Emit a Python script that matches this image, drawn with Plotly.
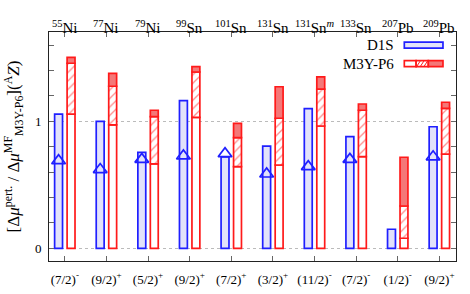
import plotly.graph_objects as go

nuclei = ["<sup>55</sup>Ni", "<sup>77</sup>Ni", "<sup>79</sup>Ni", "<sup>99</sup>Sn", "<sup>101</sup>Sn",
          "<sup>131</sup>Sn", "<sup>131</sup>Sn<sup><i>m</i></sup>", "<sup>133</sup>Sn", "<sup>207</sup>Pb", "<sup>209</sup>Pb"]
spins = ["(7/2)<sup>-</sup>", "(9/2)<sup>+</sup>", "(5/2)<sup>+</sup>", "(9/2)<sup>+</sup>", "(7/2)<sup>+</sup>",
         "(3/2)<sup>+</sup>", "(11/2)<sup>-</sup>", "(7/2)<sup>-</sup>", "(1/2)<sup>-</sup>", "(9/2)<sup>+</sup>"]
idx = list(range(len(nuclei)))

# D1S bars and triangle points
d1s = [1.057, 1.00, 0.756, 1.162, 0.72, 0.805, 1.10, 0.879, 0.15, 0.957]
d1s_tri = [0.69, 0.62, 0.70, 0.727, 0.745, 0.585, 0.643, 0.70, None, 0.72]

# M3Y-P6 stacked segments: white up to m3y_a, hatched up to m3y_b, filled up to m3y_c
m3y_a = [1.057, 0.971, 0.664, 1.031, 0.643, 0.656, 0.963, 0.721, 0.079, 0.742]
m3y_b = [1.457, 1.276, 1.036, 1.388, 0.871, 1.024, 1.254, 1.087, 0.333, 1.102]
m3y_c = [1.504, 1.378, 1.087, 1.430, 0.984, 1.272, 1.349, 1.136, 0.717, 1.150]

BLUE = "#1f1fff"
BLUE_FILL = "#e2e2fa"
RED = "#ff1a1a"
RED_FILL = "#f47878"
BW = 0.19
OFF = 0.15
FONT = "Liberation Serif"

fig = go.Figure()

fig.add_trace(go.Bar(x=idx, y=d1s, width=BW, offset=-OFF - BW / 2,
                     marker=dict(color=BLUE_FILL, line=dict(color=BLUE, width=1.7)),
                     showlegend=False))

fig.add_trace(go.Bar(x=idx, y=m3y_a, base=[0] * len(idx), width=BW, offset=OFF - BW / 2,
                     marker=dict(color="white", line=dict(color=RED, width=1.7)),
                     showlegend=False))
fig.add_trace(go.Bar(x=idx, y=[b - a for a, b in zip(m3y_a, m3y_b)], base=m3y_a, width=BW, offset=OFF - BW / 2,
                     marker=dict(color="white", line=dict(color=RED, width=1.7),
                                 pattern=dict(shape="/", fgcolor=RED, bgcolor="white", size=6, solidity=0.22)),
                     showlegend=False))
fig.add_trace(go.Bar(x=idx, y=[c - b for b, c in zip(m3y_b, m3y_c)], base=m3y_b, width=BW, offset=OFF - BW / 2,
                     marker=dict(color=RED_FILL, line=dict(color=RED, width=1.7)),
                     showlegend=False))

fig.add_trace(go.Scatter(x=[i - OFF for i in idx], y=d1s_tri, mode="markers",
                         marker=dict(symbol="triangle-up-open", size=12, color=BLUE, line=dict(width=1.7, color=BLUE)),
                         showlegend=False))

# top nucleus labels
for i, n in zip(idx, nuclei):
    fig.add_annotation(x=i, y=1, xref="x", yref="paper", yshift=16, text=n, showarrow=False,
                       font=dict(family=FONT, size=15, color="black"))

# custom legend
lx0, lx1 = 0.873, 0.968
fig.add_shape(type="rect", xref="paper", yref="paper", x0=lx0, x1=lx1, y0=0.930, y1=0.956,
              line=dict(color=BLUE, width=1.7), fillcolor=BLUE_FILL)
fig.add_annotation(xref="paper", yref="paper", x=lx0 - 0.02, y=0.943, xanchor="right", yanchor="middle",
                   text="D1S", showarrow=False, font=dict(family=FONT, size=15, color="black"))
s1, s2 = 0.902, 0.932
fig.add_shape(type="rect", xref="paper", yref="paper", x0=lx0, x1=s1, y0=0.849, y1=0.875,
              line=dict(color=RED, width=1.7), fillcolor="white")
fig.add_shape(type="rect", xref="paper", yref="paper", x0=s1, x1=s2, y0=0.849, y1=0.875,
              line=dict(color=RED, width=1.7), fillcolor="white")
for k in range(3):
    xa = s1 + 0.002 + k * 0.009
    fig.add_shape(type="line", xref="paper", yref="paper", x0=xa, x1=xa + 0.008, y0=0.851, y1=0.873,
                  line=dict(color=RED, width=1))
fig.add_shape(type="rect", xref="paper", yref="paper", x0=s2, x1=lx1, y0=0.849, y1=0.875,
              line=dict(color=RED, width=1.7), fillcolor=RED_FILL)
fig.add_annotation(xref="paper", yref="paper", x=lx0 - 0.02, y=0.862, xanchor="right", yanchor="middle",
                   text="M3Y-P6", showarrow=False, font=dict(family=FONT, size=15, color="black"))

fig.update_layout(
    width=470, height=294,
    margin=dict(l=49, r=14, t=32, b=33, autoexpand=False),
    plot_bgcolor="white", paper_bgcolor="white",
    barmode="overlay",
    font=dict(family=FONT, size=12, color="black"),
    xaxis=dict(range=[-0.38, 9.4], tickvals=idx, ticktext=spins, ticks="inside", ticklen=5,
               tickcolor="#666", showline=True, linecolor="#222", linewidth=1, mirror="ticks",
               showgrid=False, zeroline=False, automargin=False, ticklabelstandoff=6,
               tickfont=dict(family=FONT, size=13)),
    yaxis=dict(range=[-0.1, 1.703], tickvals=[0, 1], ticktext=["0", "1"], ticks="inside", ticklen=5,
               tickcolor="#666", showline=True, linecolor="#222", linewidth=1, mirror="ticks",
               showgrid=True, gridcolor="#bbb", griddash="dot", gridwidth=0.8, zeroline=False,
               automargin=False, ticklabelstandoff=4,
               minor=dict(dtick=0.2, tick0=0, ticks="inside", ticklen=5, tickcolor="#666", showgrid=False),
               tickfont=dict(family=FONT, size=13),
               title=dict(text="[Δ<i>μ</i><sup>pert.</sup> / Δ<i>μ</i><sup>MF</sup><sub>M3Y-P6</sub>](<sup>A</sup><i>Z</i>)",
                          font=dict(family=FONT, size=17), standoff=10)),
)

fig.write_html("out.html", config={"displayModeBar": False},
               post_script="document.body.style.margin='0';document.body.style.padding='0';")
